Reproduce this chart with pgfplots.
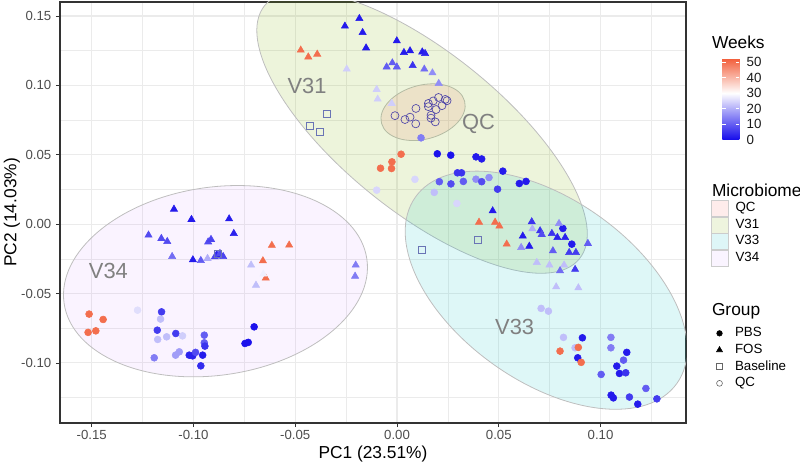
\documentclass[border=0pt]{standalone}
\usepackage{fontspec}
\setmainfont{Liberation Sans}
\usepackage{pgfplots}
\pgfplotsset{compat=1.18}
\usepackage{pgfplotstable}

\definecolor{gridc}{HTML}{EBEBEB}
\definecolor{framec}{HTML}{333333}
\definecolor{tickc}{HTML}{4D4D4D}
\definecolor{ellc}{HTML}{BEBEBE}
\definecolor{qcf}{HTML}{F8766D}
\definecolor{vaf}{HTML}{7CAE00}
\definecolor{vbf}{HTML}{00BFC4}
\definecolor{vcf}{HTML}{C77CFF}
\definecolor{lblc}{HTML}{808080}
\definecolor{qcm}{HTML}{4F46A8}
\definecolor{blm}{HTML}{6A74B5}
\definecolor{keyqc}{RGB}{254,236,235}
\definecolor{keyva}{RGB}{238,244,222}
\definecolor{keyvb}{RGB}{222,246,247}
\definecolor{keyvc}{RGB}{250,244,255}
\definecolor{keyb}{HTML}{CCCCCC}

\newcommand\tfs{\fontsize{9.9}{11.5}\selectfont}
\newcommand\afs{\fontsize{13}{15}\selectfont}
\newcommand\lfs{\fontsize{10}{12}\selectfont}

\pgfplotstableread{
x y w
-0.0256 0.1427 2
-0.0185 0.1482 2
-0.0169 0.1381 2
-0.0152 0.1270 2
-0.0001 0.1321 2
0.0034 0.1237 2
0.0064 0.1249 2
0.0124 0.1241 2
0.0138 0.1230 3
0.0077 0.1143 5
-0.0051 0.1133 10
-0.0023 0.1162 10
-0.0001 0.1133 10
0.0134 0.1117 12
0.0174 0.1090 16
0.0205 0.1014 16
-0.0247 0.1117 24
-0.0100 0.0971 24
-0.0095 0.0901 24
-0.0026 0.0870 24
-0.0473 0.1254 50
-0.0436 0.1205 50
-0.0392 0.1225 50
0.0470 0.0096 2
0.0403 0.0014 50
0.0482 0.0014 50
0.0503 -0.0014 50
0.0539 -0.0144 50
0.0662 0.0017 5
0.0665 -0.0034 20
0.0703 -0.0048 5
0.0711 -0.0074 8
0.0618 -0.0086 2
0.0650 -0.0159 2
0.0610 -0.0168 16
0.0761 -0.0067 5
0.0788 -0.0096 3
0.0826 -0.0096 3
0.0796 0.0005 16
0.0766 -0.0192 10
0.0846 -0.0204 6
0.0879 -0.0204 6
0.0938 -0.0139 10
0.0687 -0.0276 22
0.0749 -0.0295 22
0.0821 -0.0295 22
0.0801 -0.0336 12
0.0875 -0.0326 6
0.0782 -0.0452 22
0.0891 -0.0459 22
-0.1096 0.0108 2
-0.1010 0.0034 2
-0.0825 0.0038 2
-0.0802 -0.0067 3
-0.1221 -0.0079 8
-0.1158 -0.0103 8
-0.1129 -0.0125 8
-0.0928 -0.0128 8
-0.0914 -0.0110 7
-0.1105 -0.0233 12
-0.1003 -0.0257 2
-0.0964 -0.0262 10
-0.0931 -0.0247 20
-0.0886 -0.0220 3
-0.0870 -0.0211 8
-0.0854 -0.0234 7
-0.0895 -0.0236 7
-0.0615 -0.0153 50
-0.0530 -0.0151 50
-0.0659 -0.0264 50
-0.0645 -0.0389 50
-0.0717 -0.0295 22
-0.0657 -0.0360 28
-0.0693 -0.0440 22
-0.0203 -0.0295 14
-0.0206 -0.0375 14
}\fos

\pgfplotstableread{
x y w
0.0118 0.0622 14
0.0020 0.0504 50
-0.0025 0.0449 50
-0.0081 0.0403 50
-0.0027 0.0401 50
0.0198 0.0507 1
0.0264 0.0497 1
0.0388 0.0485 2
0.0416 0.0470 2
0.0088 0.0323 25
-0.0100 0.0245 25
0.0183 0.0229 22
0.0208 0.0306 10
0.0265 0.0290 8
0.0297 0.0370 5
0.0317 0.0370 5
0.0326 0.0308 10
0.0388 0.0324 16
0.0416 0.0306 8
0.0452 0.0336 16
0.0494 0.0252 6
0.0520 0.0382 2
0.0601 0.0293 2
0.0634 0.0308 2
0.0294 0.0149 25
0.0815 -0.0031 2
0.0859 -0.0144 2
0.0708 -0.0607 22
0.0744 -0.0627 22
0.0818 -0.0816 22
0.0911 -0.0819 2
0.0801 -0.0915 50
0.0875 -0.0891 22
0.0891 -0.0888 50
0.0888 -0.0963 2
0.0905 -0.0996 50
0.1051 -0.0816 14
0.1051 -0.0891 14
0.1129 -0.0924 2
0.1113 -0.0980 10
0.1080 -0.1023 2
0.1093 -0.1076 2
0.1124 -0.1071 5
0.1003 -0.1083 10
0.1223 -0.1184 10
0.1052 -0.1232 2
0.1063 -0.1252 2
0.1142 -0.1246 6
0.1183 -0.1297 2
0.1277 -0.1259 6
-0.1275 -0.0620 26
-0.1157 -0.0632 6
-0.1162 -0.0684 22
-0.1178 -0.0764 6
-0.1176 -0.0831 22
-0.1132 -0.0812 22
-0.1087 -0.0788 6
-0.1054 -0.0805 24
-0.0947 -0.0800 10
-0.0947 -0.0855 10
-0.0944 -0.0879 5
-0.1193 -0.0963 14
-0.1088 -0.0944 18
-0.1070 -0.0920 18
-0.1021 -0.0944 3
-0.1004 -0.0949 3
-0.0990 -0.0924 8
-0.0955 -0.0944 2
-0.0964 -0.1021 4
-0.0747 -0.0860 1
-0.0731 -0.0852 1
-0.0702 -0.0740 1
-0.1513 -0.0648 50
-0.1444 -0.0687 50
-0.1518 -0.0780 50
-0.1480 -0.0769 50
}\pbs

\pgfplotstableread{
x y
-0.0346 0.0793
-0.0428 0.0711
-0.0379 0.0665
0.0395 -0.0115
0.0121 -0.0187
-0.0879 -0.0211
}\baseline

\pgfplotstableread{
x y
-0.0010 0.0782
0.0039 0.0754
0.0064 0.0771
0.0092 0.0723
0.0093 0.0834
0.0154 0.0870
0.0154 0.0847
0.0178 0.0888
0.0204 0.0913
0.0237 0.0899
0.0246 0.0890
0.0221 0.0854
0.0192 0.0826
0.0167 0.0785
0.0167 0.0764
0.0188 0.0737
}\qcs

\begin{document}
\begin{tikzpicture}
\path[use as bounding box] (-45pt,-31.5pt) rectangle (555pt,317.25pt);
\begin{axis}[
  at={(0,0)}, anchor=south west, scale only axis,
  width=469.5pt, height=315.75pt,
  xmin=-0.1656, xmax=0.142, ymin=-0.1433, ymax=0.1601,
  xtick={-0.15,-0.1,-0.05,0,0.05,0.1},
  xticklabels={-0.15,-0.10,-0.05,0.00,0.05,0.10},
  ytick={-0.1,-0.05,0,0.05,0.1,0.15},
  yticklabels={-0.10,-0.05,0.00,0.05,0.10,0.15},
  minor xtick={-0.125,-0.075,-0.025,0.025,0.075,0.125},
  minor ytick={-0.125,-0.075,-0.025,0.025,0.075,0.125},
  grid=both,
  major grid style={draw=gridc, line width=0.8pt},
  minor grid style={draw=gridc, line width=0.4pt},
  minor tick length=0pt,
  major tick length=3pt,
  tick align=outside,
  xtick pos=bottom, ytick pos=left,
  tick style={draw=framec, line width=0.5pt},
  axis line style={draw=framec, line width=0.8pt},
  xticklabel style={font=\tfs, text=tickc, inner sep=2pt},
  yticklabel style={font=\tfs, text=tickc},
  xlabel={PC1 (23.51\%)}, ylabel={PC2 (14.03\%)},
  xlabel style={font=\afs, at={(axis description cs:0.5,-0.074)}, anchor=center, inner sep=0pt},
  ylabel style={font=\afs, at={(axis description cs:-0.0767,0.5)}, anchor=center, rotate=0},
  colormap={weeks}{rgb255(0)=(20,10,235) rgb255(60)=(255,255,255) rgb255(105)=(242,92,56)},
  point meta min=0, point meta max=52.5,
  scatter/use mapped color={draw=mapped color, fill=mapped color},
  colorbar,
  colorbar style={
    at={(parent axis.south west)}, anchor=south west,
    xshift=488.25pt, yshift=212.25pt,
    scale only axis, width=12.75pt, height=61.5pt,
    ytick={0,10,20,30,40,50}, yticklabels={0,10,20,30,40,50},
    ytick pos=both, yticklabel pos=right,
    yticklabel style={font=\lfs, text=black!90, anchor=west, inner sep=0pt, xshift=5.25pt},
    axis line style={draw=none},
    tick style={draw=white, line width=0.6pt},
    major tick length=2.5pt, tick align=inside,
  },
  legend style={draw=none, fill=none, inner sep=0pt, outer sep=0pt,
    row sep=0pt, column sep=5.25pt, font=\lfs,
    nodes={inner sep=0pt},
    at={(axis description cs:1.03994,0.23278)}, anchor=north west},
  legend cell align=left,
]
% ellipses (order QC, V31, V33, V34)
\draw[draw=ellc, line width=0.6pt, fill=qcf, fill opacity=0.15, rotate around={15:(axis cs:0.0128,0.0807)}] (axis cs:0.0128,0.0807) ellipse [x radius=32.25pt, y radius=20.25pt];
\draw[draw=ellc, line width=0.6pt, fill=vaf, fill opacity=0.14, rotate around={-38.8:(axis cs:0.0123,0.0663)}] (axis cs:0.0123,0.0663) ellipse [x radius=151.5pt, y radius=60pt];
\draw[draw=ellc, line width=0.6pt, fill=vbf, fill opacity=0.13, rotate around={-35.5:(axis cs:0.0733,-0.0476)}] (axis cs:0.0733,-0.0476) ellipse [x radius=120.4pt, y radius=68.25pt];
\draw[draw=ellc, line width=0.6pt, fill=vcf, fill opacity=0.09, rotate around={8.4:(axis cs:-0.0892,-0.0411)}] (axis cs:-0.0892,-0.0411) ellipse [x radius=114.75pt, y radius=70.5pt];

\addplot[scatter, only marks, mark=*, mark size=2.6pt, scatter src=explicit, forget plot] table[x=x,y=y,meta=w]{\pbs};
\addplot[scatter, only marks, mark=triangle*, mark size=3.1pt, scatter src=explicit, forget plot] table[x=x,y=y,meta=w]{\fos};
\addplot[only marks, mark=square, mark size=2.6pt, draw=blm, mark options={line width=0.5pt}, forget plot] table[x=x,y=y]{\baseline};
\addplot[only marks, mark=o, mark size=3pt, draw=qcm, mark options={line width=0.5pt}, forget plot] table[x=x,y=y]{\qcs};

\node[font=\fontsize{16.4}{19}\selectfont, text=lblc] at (axis cs:-0.0442,0.0994) {V31};
\node[font=\fontsize{16.4}{19}\selectfont, text=lblc] at (axis cs:0.0401,0.0721) {QC};
\node[font=\fontsize{16.4}{19}\selectfont, text=lblc] at (axis cs:-0.1418,-0.0335) {V34};
\node[font=\fontsize{16.4}{19}\selectfont, text=lblc] at (axis cs:0.0578,-0.0739) {V33};

\addlegendimage{legend image code/.code={\path[draw=none,fill=none] (0pt,-6.25pt) rectangle (12.75pt,6.25pt); \draw[black, fill=black] plot[only marks, mark=*, mark size=2.1pt] coordinates {(6.375pt,0pt)};}}
\addlegendentry{PBS}
\addlegendimage{legend image code/.code={\path[draw=none,fill=none] (0pt,-6.25pt) rectangle (12.75pt,6.25pt); \draw[black, fill=black] plot[only marks, mark=triangle*, mark size=2.6pt] coordinates {(6.375pt,0pt)};}}
\addlegendentry{FOS}
\addlegendimage{legend image code/.code={\path[draw=none,fill=none] (0pt,-6.25pt) rectangle (12.75pt,6.25pt); \draw[black!60, line width=0.45pt] plot[only marks, mark=square, mark size=2.2pt] coordinates {(6.375pt,0pt)};}}
\addlegendentry{Baseline}
\addlegendimage{legend image code/.code={\path[draw=none,fill=none] (0pt,-6.25pt) rectangle (12.75pt,6.25pt); \draw[black!60, line width=0.45pt] plot[only marks, mark=o, mark size=2.2pt] coordinates {(6.375pt,0pt)};}}
\addlegendentry{QC}
\end{axis}

\begin{axis}[
  at={(0,0)}, anchor=south west, scale only axis,
  width=469.5pt, height=315.75pt, hide axis,
  xmin=0, xmax=1, ymin=0, ymax=1,
  legend style={draw=none, fill=none, inner sep=0pt, outer sep=0pt,
    row sep=0pt, column sep=5.25pt, font=\lfs,
    nodes={inner sep=0pt},
    at={(axis description cs:1.03994,0.52969)}, anchor=north west},
  legend cell align=left,
]
\addplot[draw=none, forget plot] coordinates {(0.5,0.5)};
\addlegendimage{legend image code/.code={\draw[fill=keyqc, draw=keyb, line width=0.4pt] (0pt,-6pt) rectangle (12.75pt,6pt);}}
\addlegendentry{QC}
\addlegendimage{legend image code/.code={\draw[fill=keyva, draw=keyb, line width=0.4pt] (0pt,-6pt) rectangle (12.75pt,6pt);}}
\addlegendentry{V31}
\addlegendimage{legend image code/.code={\draw[fill=keyvb, draw=keyb, line width=0.4pt] (0pt,-6pt) rectangle (12.75pt,6pt);}}
\addlegendentry{V33}
\addlegendimage{legend image code/.code={\draw[fill=keyvc, draw=keyb, line width=0.4pt] (0pt,-6pt) rectangle (12.75pt,6pt);}}
\addlegendentry{V34}
\end{axis}

\node[anchor=base west, inner sep=0pt, font=\afs] at (488.8pt,281pt) {Weeks};
\node[anchor=base west, inner sep=0pt, font=\afs] at (488.8pt,169.7pt) {Microbiome};
\node[anchor=base west, inner sep=0pt, font=\afs] at (488.8pt,81pt) {Group};
\end{tikzpicture}
\end{document}
